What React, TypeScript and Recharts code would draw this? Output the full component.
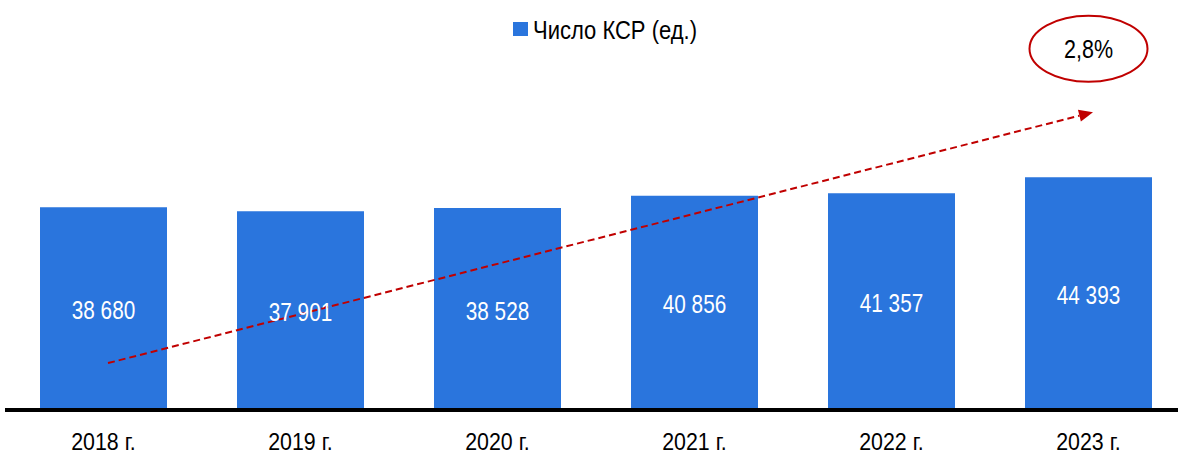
import {
    BarChart,
    Bar,
    XAxis,
    YAxis,
    Legend,
    LabelList,
    ReferenceLine,
    ReferenceDot,
} from 'recharts';

const years = ['2018 г.', '2019 г.', '2020 г.', '2021 г.', '2022 г.', '2023 г.'];
const ksrCount = [38680, 37901, 38528, 40856, 41357, 44393];
const growthLabel = '2,8%';
const legendLabel = 'Число КСР (ед.)';
const trendStart = 8950;
const trendEnd = 56800;
const badgeValue = 68900;

const data = years.map((year, i) => ({ year, value: ksrCount[i] }));

const FONT = "'Liberation Sans Narrow', 'Arial Narrow', 'Liberation Sans', Arial, sans-serif";
const BLUE = '#2A75DD';
const RED = '#C00000';
const NARROW = 0.85;

const fmt = (v: number) => String(v).replace(/\B(?=(\d{3})+(?!\d))/g, ' ');

function NarrowText({ x, y, children, fill, size, sx = NARROW }: any) {
    return (
        <g transform={`translate(${x},${y})`}>
            <text transform={`scale(${sx},1)`} textAnchor='middle' fill={fill} fontSize={size} fontFamily={FONT}>
                {children}
            </text>
        </g>
    );
}

function YearTick(props: any) {
    const { x, y, payload } = props;
    return (
        <NarrowText x={x} y={y + 40} fill='#000' size={24} sx={0.89}>
            {payload.value}
        </NarrowText>
    );
}

function ValueLabel(props: any) {
    const { x, y, width, height, value } = props;
    return (
        <NarrowText x={x + width / 2} y={y + height / 2 + 10.5} fill='#fff' size={25} sx={0.83}>
            {fmt(Number(value))}
        </NarrowText>
    );
}

function TrendArrow(props: any) {
    const { x1, y1, x2, y2 } = props;
    const sx = x1 + 4.5;
    const ex = x2 + 4.5;
    const ang = Math.atan2(y2 - y1, ex - sx);
    const len = 14;
    const half = 6;
    const bx = ex - len * Math.cos(ang);
    const by = y2 - len * Math.sin(ang);
    const p1 = `${ex},${y2}`;
    const p2 = `${bx + half * Math.sin(ang)},${by - half * Math.cos(ang)}`;
    const p3 = `${bx - half * Math.sin(ang)},${by + half * Math.cos(ang)}`;
    return (
        <g>
            <line x1={sx} y1={y1} x2={bx} y2={by} stroke={RED} strokeWidth={2} strokeDasharray='7 4' />
            <polygon points={`${p1} ${p2} ${p3}`} fill={RED} />
        </g>
    );
}

function GrowthBadge(props: any) {
    const { cx, cy } = props;
    return (
        <g>
            <ellipse cx={cx} cy={cy} rx={59} ry={33} fill='#fff' stroke={RED} strokeWidth={2} />
            <NarrowText x={cx} y={cy + 9.5} fill='#000' size={25} sx={0.86}>
                {growthLabel}
            </NarrowText>
        </g>
    );
}

function LegendContent() {
    return (
        <div style={{ position: 'relative', width: 1178, height: 34, fontFamily: FONT, fontSize: 25, color: '#000' }}>
            <span style={{ position: 'absolute', left: 513, top: 9, width: 15, height: 14, background: BLUE }} />
            <span
                style={{
                    position: 'absolute',
                    left: 533,
                    top: 0,
                    lineHeight: '34px',
                    whiteSpace: 'nowrap',
                    transform: 'scaleX(0.88)',
                    transformOrigin: 'left center',
                }}
            >
                {legendLabel}
            </span>
        </div>
    );
}

export default function App() {
    return (
        <div style={{ position: 'absolute', left: 0, top: 0, width: 1178, height: 455, background: '#fff', overflow: 'hidden' }}>
            <BarChart
                width={1190}
                height={455}
                data={data}
                margin={{ top: 43, right: 3, bottom: 0, left: 5 }}
            >
                <Legend
                    verticalAlign='middle'
                    align='center'
                    layout='horizontal'
                    content={<LegendContent />}
                    wrapperStyle={{ top: 13, left: 0, width: 1178, height: 34 }}
                />
                <XAxis
                    dataKey='year'
                    axisLine={{ stroke: '#000', strokeWidth: 4 }}
                    tickLine={false}
                    height={45}
                    tickSize={0}
                    tickMargin={0}
                    tick={<YearTick />}
                    interval={0}
                />
                <YAxis hide domain={[0, 70000]} />
                <Bar dataKey='value' fill={BLUE} barSize={127} isAnimationActive={false}>
                    <LabelList dataKey='value' content={<ValueLabel />} />
                </Bar>
                <ReferenceLine
                    segment={[
                        { x: years[0], y: trendStart },
                        { x: years[years.length - 1], y: trendEnd },
                    ]}
                    ifOverflow='visible'
                    shape={<TrendArrow />}
                />
                <ReferenceDot
                    x={years[years.length - 1]}
                    y={badgeValue}
                    ifOverflow='visible'
                    shape={<GrowthBadge />}
                />
            </BarChart>
        </div>
    );
}
